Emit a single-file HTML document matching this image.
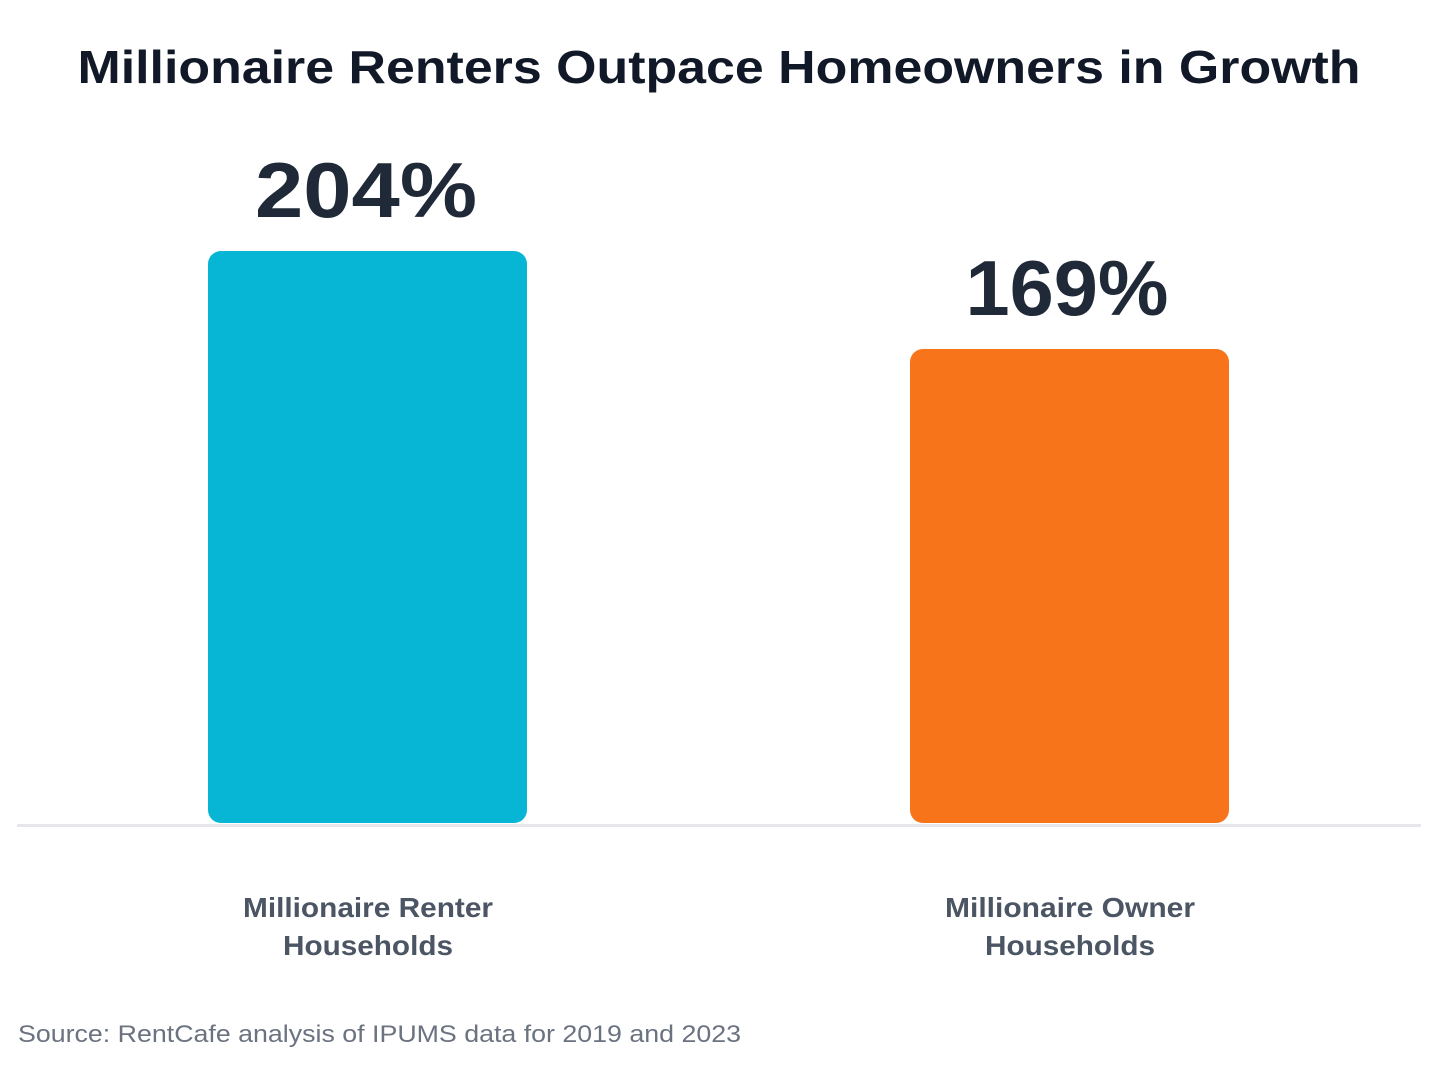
<!DOCTYPE html>
<html><head><meta charset="utf-8"><style>
html,body{margin:0;padding:0;background:#fff;}
svg{display:block;}
</style></head><body>
<svg width="1440" height="1079" viewBox="0 0 1440 1079" xmlns="http://www.w3.org/2000/svg" font-family="'Liberation Sans', sans-serif">
<rect width="1440" height="1079" fill="#fff"/>
<text x="719" y="83" text-anchor="middle" font-size="46" font-weight="bold" fill="#111827" textLength="1283" lengthAdjust="spacingAndGlyphs">Millionaire Renters Outpace Homeowners in Growth</text>
<text x="366" y="217" text-anchor="middle" font-size="78" font-weight="bold" fill="#1f2937" textLength="222" lengthAdjust="spacingAndGlyphs">204%</text>
<text x="1067" y="315" text-anchor="middle" font-size="78" font-weight="bold" fill="#1f2937" textLength="203" lengthAdjust="spacingAndGlyphs">169%</text>
<rect x="208" y="251" width="319" height="572" rx="13" fill="#07b6d5"/>
<rect x="910" y="349" width="319" height="474" rx="13" fill="#f7741b"/>
<rect x="17" y="824" width="1404" height="3" fill="#e5e7eb"/>
<g font-size="28" font-weight="bold" fill="#4b5563" text-anchor="middle">
<text x="368" y="917" textLength="250" lengthAdjust="spacingAndGlyphs">Millionaire Renter</text>
<text x="368" y="955" textLength="170" lengthAdjust="spacingAndGlyphs">Households</text>
<text x="1070" y="917" textLength="250" lengthAdjust="spacingAndGlyphs">Millionaire Owner</text>
<text x="1070" y="955" textLength="170" lengthAdjust="spacingAndGlyphs">Households</text>
</g>
<text x="18" y="1042" font-size="24" fill="#6b7280" textLength="723" lengthAdjust="spacingAndGlyphs">Source: RentCafe analysis of IPUMS data for 2019 and 2023</text>
</svg>
</body></html>
